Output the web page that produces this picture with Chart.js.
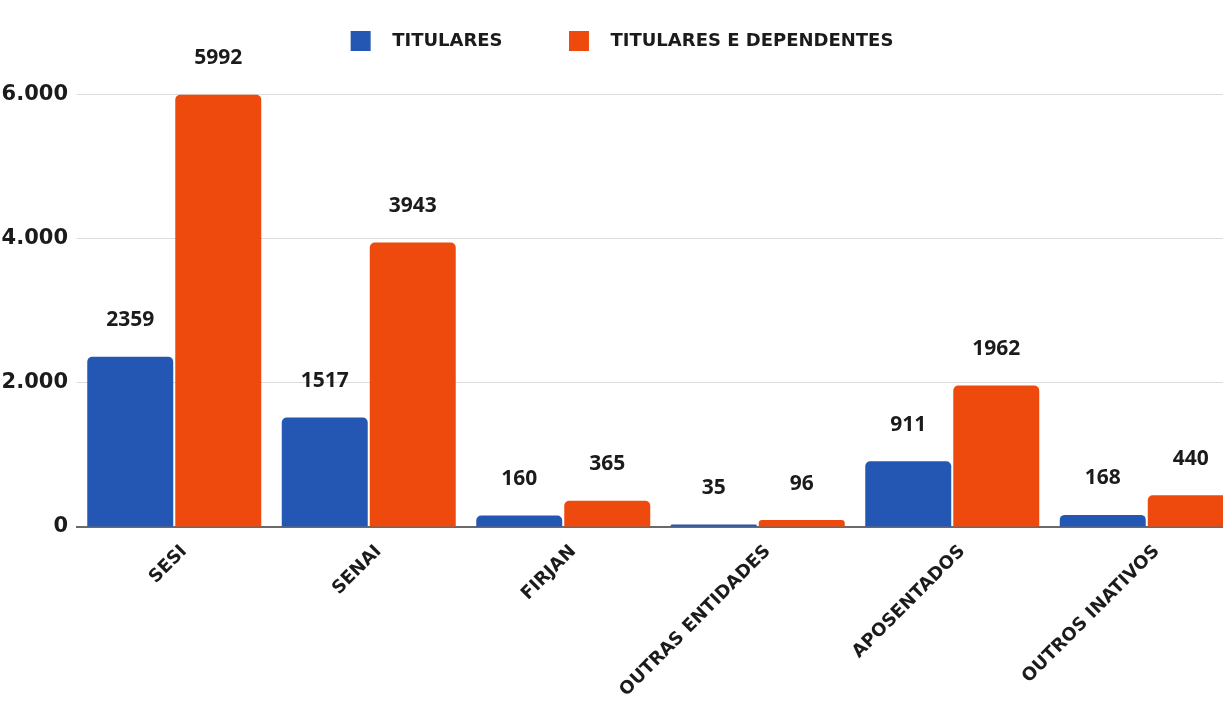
<!DOCTYPE html>
<html>
<head>
<meta charset="utf-8">
<script src="https://cdn.jsdelivr.net/npm/chart.js@4/dist/chart.umd.min.js"></script>
<style>
  html, body { margin: 0; padding: 0; background: #fff; overflow: hidden; }
  #wrap { width: 1252px; height: 701px; }
</style>
</head>
<body>
<div id="wrap"><canvas id="chart"></canvas></div>
<script>
const categories = ['SESI', 'SENAI', 'FIRJAN', 'OUTRAS ENTIDADES', 'APOSENTADOS', 'OUTROS INATIVOS'];
const titulares = [2359, 1517, 160, 35, 911, 168];
const titularesDependentes = [5992, 3943, 365, 96, 1962, 440];
const seriesNames = ['TITULARES', 'TITULARES E DEPENDENTES'];
const yTicks = [0, 2000, 4000, 6000];

// numbers above each bar
const valueLabels = {
    id: 'valueLabels',
    afterDatasetsDraw(chart) {
        const ctx = chart.ctx;
        ctx.save();
        ctx.font = 'bold 21px "Open Sans"';
        ctx.fillStyle = '#1b1b1b';
        ctx.textAlign = 'center';
        ctx.textBaseline = 'bottom';
        chart.data.datasets.forEach((ds, i) => {
            chart.getDatasetMeta(i).data.forEach((bar, j) => {
                ctx.fillText(ds.data[j], bar.x, bar.y - 26);
            });
        });
        ctx.restore();
    }
};

const ctx = document.getElementById('chart').getContext('2d');
const chart = new Chart(ctx, {
    type: 'bar',
    data: {
        labels: categories,
        datasets: [{
            label: seriesNames[0],
            data: titulares,
            backgroundColor: '#2457b4',
            borderRadius: {topLeft: 5, topRight: 5},
            borderSkipped: 'bottom'
        }, {
            label: seriesNames[1],
            data: titularesDependentes,
            backgroundColor: '#ee4a0e',
            borderRadius: {topLeft: 5, topRight: 5},
            borderSkipped: 'bottom'
        }]
    },
    options: {
        responsive: true,
        maintainAspectRatio: false,
        animation: false,
        datasets: {
            bar: {categoryPercentage: 0.905, barPercentage: 0.977}
        },
        layout: {padding: {top: 21, right: 8, left: 0, bottom: 0}},
        plugins: {
            tooltip: {enabled: false},
            legend: {
                position: 'top',
                labels: {
                    boxWidth: 20,
                    boxHeight: 20,
                    padding: 10,
                    color: '#1b1b1b',
                    font: {family: 'DejaVu Sans', size: 18, weight: 'bold'},
                    generateLabels(chart) {
                        const items = Chart.defaults.plugins.legend.labels.generateLabels(chart);
                        items.forEach((item, i) => {
                            item.text = '  ' + item.text + (i === 0 ? '         ' : '');
                            item.lineWidth = 0;
                        });
                        return items;
                    }
                }
            }
        },
        scales: {
            x: {
                grid: {display: false},
                border: {display: true, color: '#6a6a6a', width: 2},
                ticks: {
                    color: '#1b1b1b',
                    maxRotation: 45,
                    minRotation: 45,
                    padding: 6,
                    labelOffset: 10,
                    font: {family: 'DejaVu Sans', size: 18, weight: 'bold'}
                },
                afterFit(scale) { scale.height = 174; }
            },
            y: {
                min: 0,
                max: 6460,
                border: {display: false},
                grid: {color: '#dcdcdc', drawTicks: false},
                afterBuildTicks(scale) {
                    scale.ticks = yTicks.map(v => ({value: v}));
                },
                ticks: {
                    color: '#1b1b1b',
                    padding: 9,
                    font: {family: 'DejaVu Sans', size: 21, weight: 'bold'},
                    callback: v => v.toLocaleString('pt-BR')
                },
                afterFit(scale) { scale.width = 77; }
            }
        }
    },
    plugins: [valueLabels]
});
</script>
</body>
</html>
